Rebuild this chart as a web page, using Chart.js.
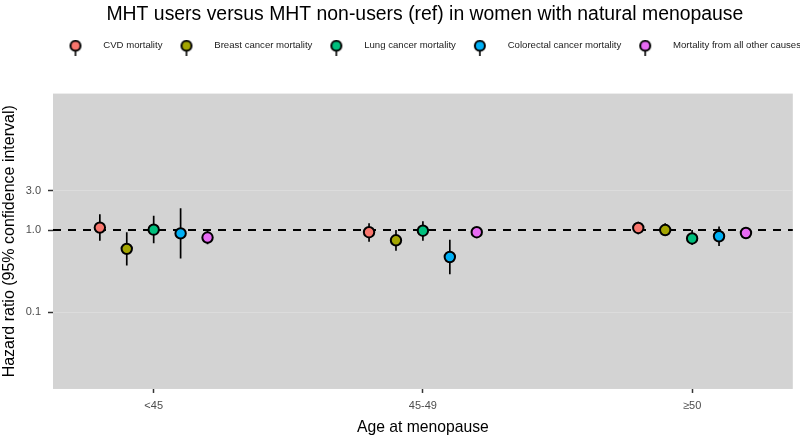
<!DOCTYPE html>
<html>
<head>
<meta charset="utf-8">
<script src="https://cdn.jsdelivr.net/npm/chart.js@4/dist/chart.umd.min.js"></script>
<style>
  html, body { margin: 0; padding: 0; background: #ffffff; }
  #wrap { width: 800px; height: 438px; }
</style>
</head>
<body>
<div id="wrap"><canvas id="c" width="800" height="438"></canvas></div>
<script>
// ---------------- DATA ----------------
const chartTitle = 'MHT users versus MHT non-users (ref) in women with natural menopause';
const xAxisTitle = 'Age at menopause';
const yAxisTitle = 'Hazard ratio (95% confidence interval)';
const categories = ['<45', '45-49', '≥50'];
const seriesNames = ['CVD mortality', 'Breast cancer mortality', 'Lung cancer mortality', 'Colorectal cancer mortality', 'Mortality from all other causes'];

const cvdHR = [1.07, 0.94, 1.06];
const cvdLo = [0.74, 0.72, 0.89];
const cvdHi = [1.55, 1.21, 1.26];

const breastHR = [0.59, 0.75, 1.00];
const breastLo = [0.37, 0.56, 0.85];
const breastHi = [0.94, 1.00, 1.21];

const lungHR = [1.01, 0.98, 0.79];
const lungLo = [0.69, 0.74, 0.66];
const lungHi = [1.49, 1.28, 1.00];

const colorectalHR = [0.91, 0.47, 0.84];
const colorectalLo = [0.45, 0.29, 0.64];
const colorectalHi = [1.84, 0.76, 1.10];

const otherHR = [0.81, 0.94, 0.92];
const otherLo = [0.67, 0.87, 0.80];
const otherHi = [1.00, 1.00, 1.00];

const yTickValues = [0.1, 1, 3];
const yTickLabels = ['0.1', '1.0', '3.0'];
const refValue = 1;

// ---------------- STYLE ----------------
const seriesColors = ['#F8766D', '#A3A500', '#00BF7D', '#00B0F6', '#E76BF3'];
const FONT = "'Liberation Sans', Arial, Helvetica, sans-serif";
const panelBg = '#D3D3D3';
const dodgeStep = 0.1;
const catPad = 0.374;
const yMin = 0.0117, yMax = 45.5;
const legendShift = 7;

const seriesHR = [cvdHR, breastHR, lungHR, colorectalHR, otherHR];
const seriesLo = [cvdLo, breastLo, lungLo, colorectalLo, otherLo];
const seriesHi = [cvdHi, breastHi, lungHi, colorectalHi, otherHi];

function makeMarker(color) {
  const cv = document.createElement('canvas');
  cv.width = 16; cv.height = 21;
  const g = cv.getContext('2d');
  g.strokeStyle = '#000'; g.lineWidth = 1.6;
  g.beginPath(); g.moveTo(8, 0); g.lineTo(8, 21); g.stroke();
  g.beginPath(); g.arc(8, 10.5, 5, 0, Math.PI * 2);
  g.fillStyle = color; g.fill();
  g.lineWidth = 2; g.stroke();
  return cv;
}
const markers = seriesColors.map(makeMarker);

const datasets = [];
seriesNames.forEach((name, i) => {
  const off = (i - (seriesNames.length - 1) / 2) * dodgeStep;
  datasets.push({
    type: 'scatter',
    label: name,
    data: categories.map((c, j) => ({ x: j + 1 + off, y: seriesHR[i][j] })),
    backgroundColor: seriesColors[i],
    borderColor: '#000',
    borderWidth: 2,
    pointRadius: 5.2,
    pointHoverRadius: 5.2,
    order: 0
  });
});
seriesNames.forEach((name, i) => {
  const off = (i - (seriesNames.length - 1) / 2) * dodgeStep;
  const pts = [];
  categories.forEach((c, j) => {
    pts.push({ x: j + 1 + off, y: seriesLo[i][j] });
    pts.push({ x: j + 1 + off, y: seriesHi[i][j] });
    pts.push({ x: j + 1 + off, y: null });
  });
  datasets.push({
    type: 'line',
    label: name + ' CI',
    data: pts,
    borderColor: '#000',
    borderWidth: 1.7,
    pointRadius: 0,
    spanGaps: false,
    fill: false,
    order: 1
  });
});

const panelPlugin = {
  id: 'panel',
  afterLayout(chart) {
    if (chart.legend) { chart.legend.left += legendShift; chart.legend.right += legendShift; }
  },
  beforeDraw(chart) {
    const { ctx, chartArea: a } = chart;
    ctx.save();
    ctx.fillStyle = panelBg;
    ctx.fillRect(a.left, a.top, a.right - a.left, a.bottom - a.top);
    ctx.restore();
  },
  beforeDatasetsDraw(chart) {
    const { ctx, chartArea: a, scales } = chart;
    const y = scales.y.getPixelForValue(refValue);
    ctx.save();
    ctx.strokeStyle = '#000';
    ctx.lineWidth = 1.8;
    ctx.setLineDash([8, 7]);
    ctx.beginPath();
    ctx.moveTo(a.left, y); ctx.lineTo(a.right, y);
    ctx.stroke();
    ctx.restore();
  },
  afterDraw(chart) {
    const { ctx, chartArea: a } = chart;
    ctx.save();
    ctx.fillStyle = '#000';
    ctx.font = '19.4px ' + FONT;
    ctx.textAlign = 'center';
    ctx.textBaseline = 'middle';
    ctx.fillText(chartTitle, (a.left + a.right) / 2 + 2, 15);
    ctx.restore();
  }
};

new Chart(document.getElementById('c'), {
  type: 'scatter',
  data: { datasets },
  plugins: [panelPlugin],
  options: {
    responsive: false,
    animation: false,
    layout: { padding: { top: 40, right: 5, left: 0, bottom: 0 } },
    plugins: {
      tooltip: { enabled: false },
      title: { display: false },
      subtitle: {
        display: true, text: '', weight: 500,
        font: { size: 10, family: FONT },
        padding: { top: 0, bottom: 21 }
      },
      legend: {
        position: 'top',
        align: 'end',
        labels: {
          usePointStyle: true,
          pointStyleWidth: 46,
          padding: 1,
          color: '#222',
          font: { size: 9.6, family: FONT },
          generateLabels: () => seriesNames.map((n, i) => ({
            text: n, pointStyle: markers[i], fillStyle: seriesColors[i],
            strokeStyle: '#000', lineWidth: 0, hidden: false, datasetIndex: i, fontColor: '#222'
          }))
        }
      }
    },
    scales: {
      x: {
        type: 'linear',
        min: 1 - catPad,
        max: categories.length + catPad,
        afterBuildTicks: s => { s.ticks = categories.map((c, i) => ({ value: i + 1 })); },
        ticks: {
          callback: v => categories[Math.round(v) - 1],
          color: '#4D4D4D', font: { size: 11, family: FONT }, padding: 6,
          autoSkip: false, maxRotation: 0
        },
        grid: { drawOnChartArea: false, drawTicks: true, tickLength: 4, tickColor: '#333', tickWidth: 1.5 },
        border: { display: false },
        title: { display: true, text: xAxisTitle, color: '#000', font: { size: 15.7, family: FONT }, padding: { top: 0, bottom: 1 } }
      },
      y: {
        type: 'logarithmic',
        min: yMin,
        max: yMax,
        afterBuildTicks: s => { s.ticks = yTickValues.map(v => ({ value: v })); },
        afterFit: s => { s.width = 53; },
        ticks: {
          callback: (v) => { const k = yTickValues.indexOf(v); return k >= 0 ? yTickLabels[k] : ''; },
          color: '#4D4D4D', font: { size: 11, family: FONT }, padding: 7
        },
        grid: { color: '#DCDCDC', lineWidth: 1, drawTicks: true, tickLength: 5, tickColor: '#333', tickWidth: 1.5 },
        border: { display: false },
        title: { display: true, text: yAxisTitle, color: '#000', font: { size: 16, family: FONT }, padding: { top: 0, bottom: 0 } }
      }
    }
  }
});
</script>
</body>
</html>
